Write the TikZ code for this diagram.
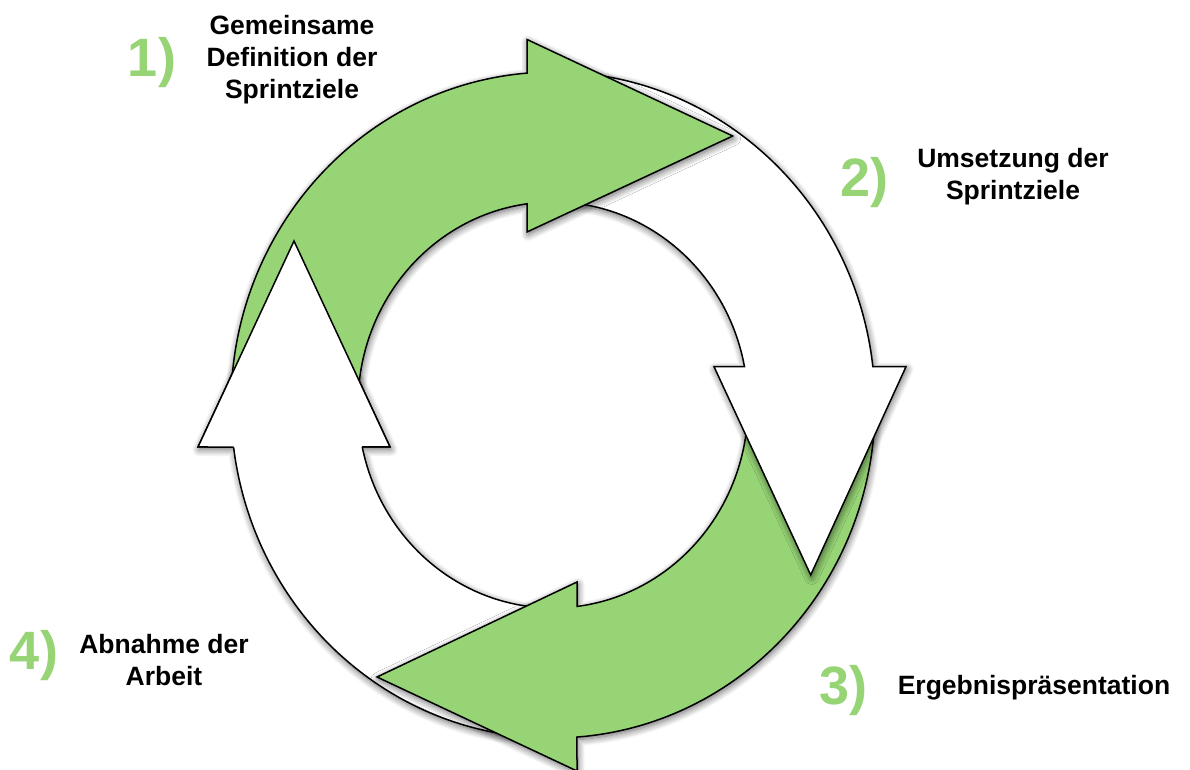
\documentclass[tikz,border=0pt]{standalone}
\usepackage{fontspec}
\setmainfont{Liberation Sans}
\usetikzlibrary{shadows.blur}
\definecolor{sgreen}{RGB}{150,212,117}
\begin{document}
\begin{tikzpicture}[x=1pt,y=1pt,
  arrowshape/.style={draw=black, line width=1.5pt, line join=miter,
    blur shadow={shadow xshift=1pt, shadow yshift=-2.5pt, shadow blur radius=7pt, shadow blur steps=10, shadow opacity=60}},
  headredraw/.style={draw=black, line width=1.5pt, line join=miter, fill=white},
  lbl/.style={font=\fontsize{26.5}{32}\selectfont\bfseries, align=center, text=black, inner sep=0pt},
  num/.style={font=\fontsize{54}{54}\selectfont\bfseries, text=sgreen, inner sep=0pt, anchor=base}]
\useasboundingbox (0,0) rectangle (1190,770);
\begin{scope}[shift={(553,365)}]
 % 4) white arrow on the left, pointing up
 \filldraw[arrowshape, fill=white] (267.7:322 and 333)
   arc[start angle=267.7, end angle=187.25, x radius=322, y radius=333]
   -- (-355,-42) -- (-259,164) -- (-163,-42) -- (191.94:195 and 203)
   arc[start angle=191.94, end angle=267.7, x radius=195, y radius=203] -- cycle;
 % 3) green arrow at the bottom, pointing left
 \filldraw[arrowshape, fill=sgreen] (2:322 and 333)
   arc[start angle=2, end angle=-85.73, x radius=322, y radius=333]
   -- (24,-366) -- (-176,-272) -- (24,-177) -- (-82.93:195 and 203)
   arc[start angle=-82.93, end angle=2, x radius=195, y radius=203] -- cycle;
 % 2) white arrow on the right, pointing down
 \filldraw[arrowshape, fill=white] (88:322 and 333)
   arc[start angle=88, end angle=6.6, x radius=322, y radius=333]
   -- (353,38.3) -- (257.7,-170) -- (161,38.3) -- (10.88:195 and 203)
   arc[start angle=10.88, end angle=88, x radius=195, y radius=203] -- cycle;
 % 1) green arrow at the top, pointing right
 \filldraw[arrowshape, fill=sgreen] (183:322 and 333)
   arc[start angle=183, end angle=94.63, x radius=322, y radius=333]
   -- (-26,365.5) -- (179.7,269) -- (-26,173) -- (97.66:195 and 203)
   arc[start angle=97.66, end angle=183, x radius=195, y radius=203] -- cycle;
 % head of the left white arrow lies over the start of the top green arrow
 \filldraw[headredraw] (187.25:322 and 333) -- (-355,-42) -- (-259,164) -- (-163,-42) -- (191.94:195 and 203);
\end{scope}
\node[num] (n1) at (152,693.3) {1)};
\node[num] (n2) at (864,573.3) {2)};
\node[num] (n3) at (843,65) {3)};
\node[num] (n4) at (34,100) {4)};
\node[lbl] (t1) at (292,710) {Gemeinsame\\Definition der\\Sprintziele};
\node[lbl] (t2) at (1013,593) {Umsetzung der\\Sprintziele};
\node[lbl] (t3) at (1034,82) {Ergebnispräsentation};
\node[lbl] (t4) at (164,110) {Abnahme der\\Arbeit};
\end{tikzpicture}
\end{document}
